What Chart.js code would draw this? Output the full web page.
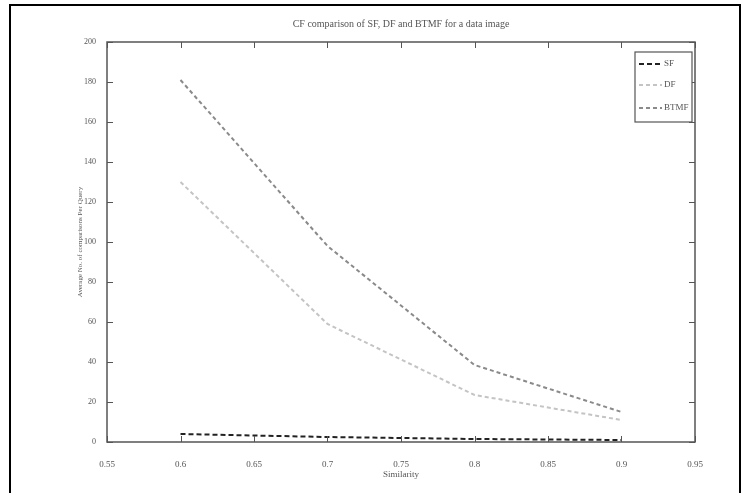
<!DOCTYPE html>
<html>
<head>
<meta charset="utf-8">
<script src="https://cdn.jsdelivr.net/npm/chart.js@4.4.0/dist/chart.umd.min.js"></script>
<style>
  html, body { margin: 0; padding: 0; background: #fff; }
  #wrap { width: 753px; height: 493px; }
</style>
</head>
<body>
<div id="wrap"><canvas id="cfChart" width="753" height="493"></canvas></div>
<script>
const similarity = [0.6, 0.7, 0.8, 0.9];
const sfValues = [4, 2.5, 1.5, 1];
const dfValues = [130, 59, 23.5, 11];
const btmfValues = [181, 98, 38.5, 15];
const seriesNames = ['SF', 'DF', 'BTMF'];
const titleText = 'CF comparison of SF, DF and BTMF for a data image';

const toPoints = vals => vals.map((v, i) => ({ x: similarity[i], y: v }));
const serif = 'Liberation Serif';

// white page, outer frame, plot box, inward ticks, title, legend
const matlabLook = {
    id: 'matlabLook',
    beforeDraw(chart) {
        const ctx = chart.ctx;
        ctx.save();
        ctx.fillStyle = '#fff';
        ctx.fillRect(0, 0, chart.width, chart.height);
        ctx.strokeStyle = '#000';
        ctx.lineWidth = 2;
        ctx.strokeRect(10, 5, 730, 500);
        ctx.restore();
    },
    afterDraw(chart) {
        const ctx = chart.ctx;
        const a = chart.chartArea;
        const xs = chart.scales.x, ys = chart.scales.y;
        ctx.save();
        ctx.strokeStyle = '#555';
        ctx.lineWidth = 1.5;
        ctx.strokeRect(a.left, a.top, a.right - a.left, a.bottom - a.top);
        ctx.lineWidth = 1;
        ctx.beginPath();
        xs.ticks.forEach(t => {
            const px = Math.round(xs.getPixelForValue(t.value)) + 0.5;
            ctx.moveTo(px, a.bottom); ctx.lineTo(px, a.bottom - 6);
            ctx.moveTo(px, a.top); ctx.lineTo(px, a.top + 6);
        });
        ys.ticks.forEach(t => {
            const py = Math.round(ys.getPixelForValue(t.value)) + 0.5;
            ctx.moveTo(a.left, py); ctx.lineTo(a.left + 6, py);
            ctx.moveTo(a.right, py); ctx.lineTo(a.right - 6, py);
        });
        ctx.stroke();

        ctx.fillStyle = '#555';
        ctx.font = '10px "' + serif + '"';
        ctx.textAlign = 'center';
        ctx.textBaseline = 'middle';
        ctx.fillText(titleText, (a.left + a.right) / 2, 24);

        // legend box
        const lx = 635, ly = 52, lw = 57, lh = 70;
        ctx.fillStyle = '#fff';
        ctx.fillRect(lx, ly, lw, lh);
        ctx.strokeStyle = '#555';
        ctx.lineWidth = 1.2;
        ctx.strokeRect(lx, ly, lw, lh);
        const rowY = [64, 85, 108];
        chart.data.datasets.forEach((ds, i) => {
            ctx.strokeStyle = ds.borderColor;
            ctx.lineWidth = ds.borderWidth;
            ctx.setLineDash(ds.borderDash);
            ctx.beginPath();
            ctx.moveTo(lx + 4, rowY[i]);
            ctx.lineTo(lx + 27, rowY[i]);
            ctx.stroke();
            ctx.setLineDash([]);
            ctx.fillStyle = '#555';
            ctx.textAlign = 'left';
            ctx.font = '9px "' + serif + '"';
            ctx.fillText(ds.label, lx + 29, rowY[i]);
        });
        ctx.restore();
    }
};

const ctx = document.getElementById('cfChart').getContext('2d');
new Chart(ctx, {
    type: 'line',
    data: {
        datasets: [
            { label: seriesNames[0], data: toPoints(sfValues), borderColor: '#222', borderDash: [5, 3], borderWidth: 2 },
            { label: seriesNames[1], data: toPoints(dfValues), borderColor: '#c4c4c4', borderDash: [4, 3], borderWidth: 2 },
            { label: seriesNames[2], data: toPoints(btmfValues), borderColor: '#8a8a8a', borderDash: [4, 3], borderWidth: 2 }
        ]
    },
    options: {
        responsive: false,
        animation: false,
        layout: { padding: { left: 0, top: 42, right: 58, bottom: 0 } },
        elements: { point: { radius: 0 }, line: { tension: 0 } },
        plugins: { legend: { display: false }, tooltip: { enabled: false } },
        scales: {
            x: {
                type: 'linear',
                min: 0.55,
                max: 0.95,
                afterFit: s => { s.height = 51; },
                grid: { display: false },
                border: { display: false },
                ticks: {
                    stepSize: 0.05,
                    padding: 9,
                    color: '#555',
                    font: { family: serif, size: 9 },
                    callback: v => String(Math.round(v * 100) / 100)
                },
                title: {
                    display: true,
                    text: 'Similarity',
                    color: '#555',
                    font: { family: serif, size: 9 },
                    padding: { top: 0, bottom: 13 }
                }
            },
            y: {
                min: 0,
                max: 200,
                afterFit: s => { s.width = 107; },
                grid: { display: false },
                border: { display: false },
                ticks: {
                    stepSize: 20,
                    padding: 3,
                    color: '#555',
                    font: { family: serif, size: 8 }
                },
                title: {
                    display: true,
                    text: 'Average No. of comparisons Per Query',
                    color: '#555',
                    font: { family: serif, size: 7 },
                    padding: { top: 76, bottom: 0 }
                }
            }
        }
    },
    plugins: [matlabLook]
});
</script>
</body>
</html>
